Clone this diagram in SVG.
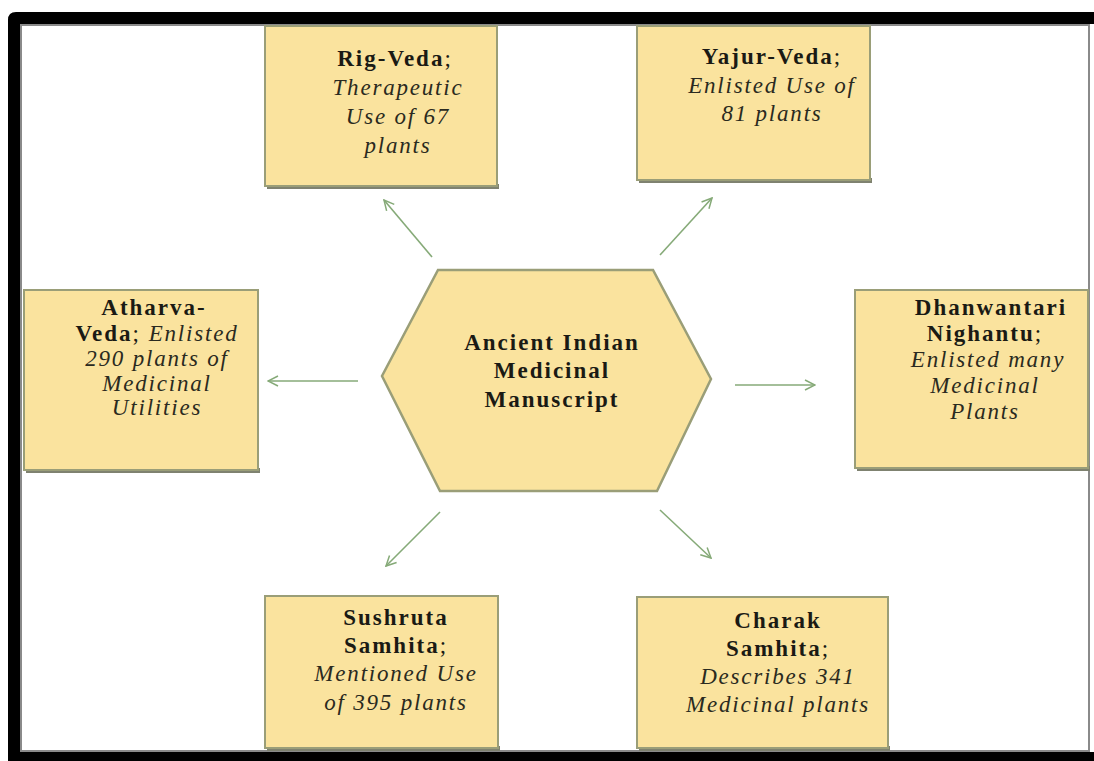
<svg xmlns="http://www.w3.org/2000/svg" width="1094" height="761" viewBox="0 0 1094 761">
<defs>
<marker id="ah" viewBox="0 0 12 12" refX="11" refY="6" markerWidth="12" markerHeight="12" markerUnits="userSpaceOnUse" orient="auto">
<path d="M1,1 L11,6 L1,11" fill="none" stroke="#86aa78" stroke-width="1.5"/>
</marker>
</defs>
<style>
.box{fill:#fae39e;stroke:#9a9e78;stroke-width:2}
.sh{fill:#7f8270}
.b{font-family:"Liberation Serif",serif;font-weight:bold;font-size:23px;letter-spacing:2px;fill:#1a1a14;text-anchor:middle}
.i{font-family:"Liberation Serif",serif;font-style:italic;font-size:23px;letter-spacing:1.8px;fill:#2a2a20;text-anchor:middle}
.n{font-style:normal;font-weight:normal}
.c line{stroke:#86aa78;stroke-width:1.6;marker-end:url(#ah)}
</style>
<rect x="0" y="0" width="1094" height="761" fill="#fff"/>
<path d="M8,761 L8,20 Q8,12 16,12 L1094,12 L1094,24 L20,24 L20,752 L1094,752 L1094,761 Z" fill="#000"/>
<rect x="21" y="25" width="1068" height="726" fill="#fff" stroke="#8a8a8a" stroke-width="2"/>

<g class="c" id="connectors">
<line x1="432" y1="257" x2="384" y2="200"/>
<line x1="660" y1="255" x2="712" y2="198"/>
<line x1="358" y1="381" x2="268" y2="381"/>
<line x1="735" y1="385" x2="815" y2="385"/>
<line x1="440" y1="512" x2="386" y2="566"/>
<line x1="660" y1="510" x2="711" y2="558"/>
</g>

<g id="center">
<polygon points="438,270 653,270 711,379 657,491 440,491 382,376" fill="#fae39e" stroke="#9a9e78" stroke-width="2.5"/>
<text class="b" x="552" y="350">Ancient Indian</text>
<text class="b" x="552" y="378">Medicinal</text>
<text class="b" x="552" y="407">Manuscript</text>
</g>

<g id="rig">
<rect class="sh" x="267" y="184" width="232" height="5"/>
<rect class="box" x="265" y="26" width="232" height="160"/>
<text class="b" x="395" y="66">Rig-Veda<tspan class="n">;</tspan></text>
<text class="i" x="398" y="95">Therapeutic</text>
<text class="i" x="398" y="124">Use of 67</text>
<text class="i" x="398" y="153">plants</text>
</g>

<g id="yajur">
<rect class="sh" x="639" y="178" width="233" height="5"/>
<rect class="box" x="637" y="26" width="233" height="154"/>
<text class="b" x="772" y="64">Yajur-Veda<tspan class="n">;</tspan></text>
<text class="i" x="772" y="93">Enlisted Use of</text>
<text class="i" x="772" y="121">81 plants</text>
</g>

<g id="atharva">
<rect class="sh" x="26" y="468" width="234" height="5"/>
<rect class="box" x="24" y="290" width="234" height="180"/>
<text class="b" x="154" y="315">Atharva-</text>
<text class="b" x="157" y="341">Veda<tspan class="n">;</tspan> <tspan class="i" font-weight="normal">Enlisted</tspan></text>
<text class="i" x="157" y="366">290 plants of</text>
<text class="i" x="157" y="391">Medicinal</text>
<text class="i" x="157" y="415">Utilities</text>
</g>

<g id="dhanwantari">
<rect class="sh" x="857" y="466" width="233" height="5"/>
<rect class="box" x="855" y="290" width="233" height="178"/>
<text class="b" x="991" y="315">Dhanwantari</text>
<text class="b" x="985" y="341">Nighantu<tspan class="n">;</tspan></text>
<text class="i" x="988" y="367">Enlisted many</text>
<text class="i" x="985" y="393">Medicinal</text>
<text class="i" x="985" y="419">Plants</text>
</g>

<g id="sushruta">
<rect class="sh" x="267" y="746" width="233" height="5"/>
<rect class="box" x="265" y="596" width="233" height="152"/>
<text class="b" x="396" y="625">Sushruta</text>
<text class="b" x="396" y="653">Samhita<tspan class="n">;</tspan></text>
<text class="i" x="396" y="681">Mentioned Use</text>
<text class="i" x="396" y="710">of 395 plants</text>
</g>

<g id="charak">
<rect class="sh" x="639" y="746" width="251" height="5"/>
<rect class="box" x="637" y="597" width="251" height="151"/>
<text class="b" x="778" y="628">Charak</text>
<text class="b" x="778" y="656">Samhita<tspan class="n">;</tspan></text>
<text class="i" x="778" y="684">Describes 341</text>
<text class="i" x="778" y="712">Medicinal plants</text>
</g>
</svg>
